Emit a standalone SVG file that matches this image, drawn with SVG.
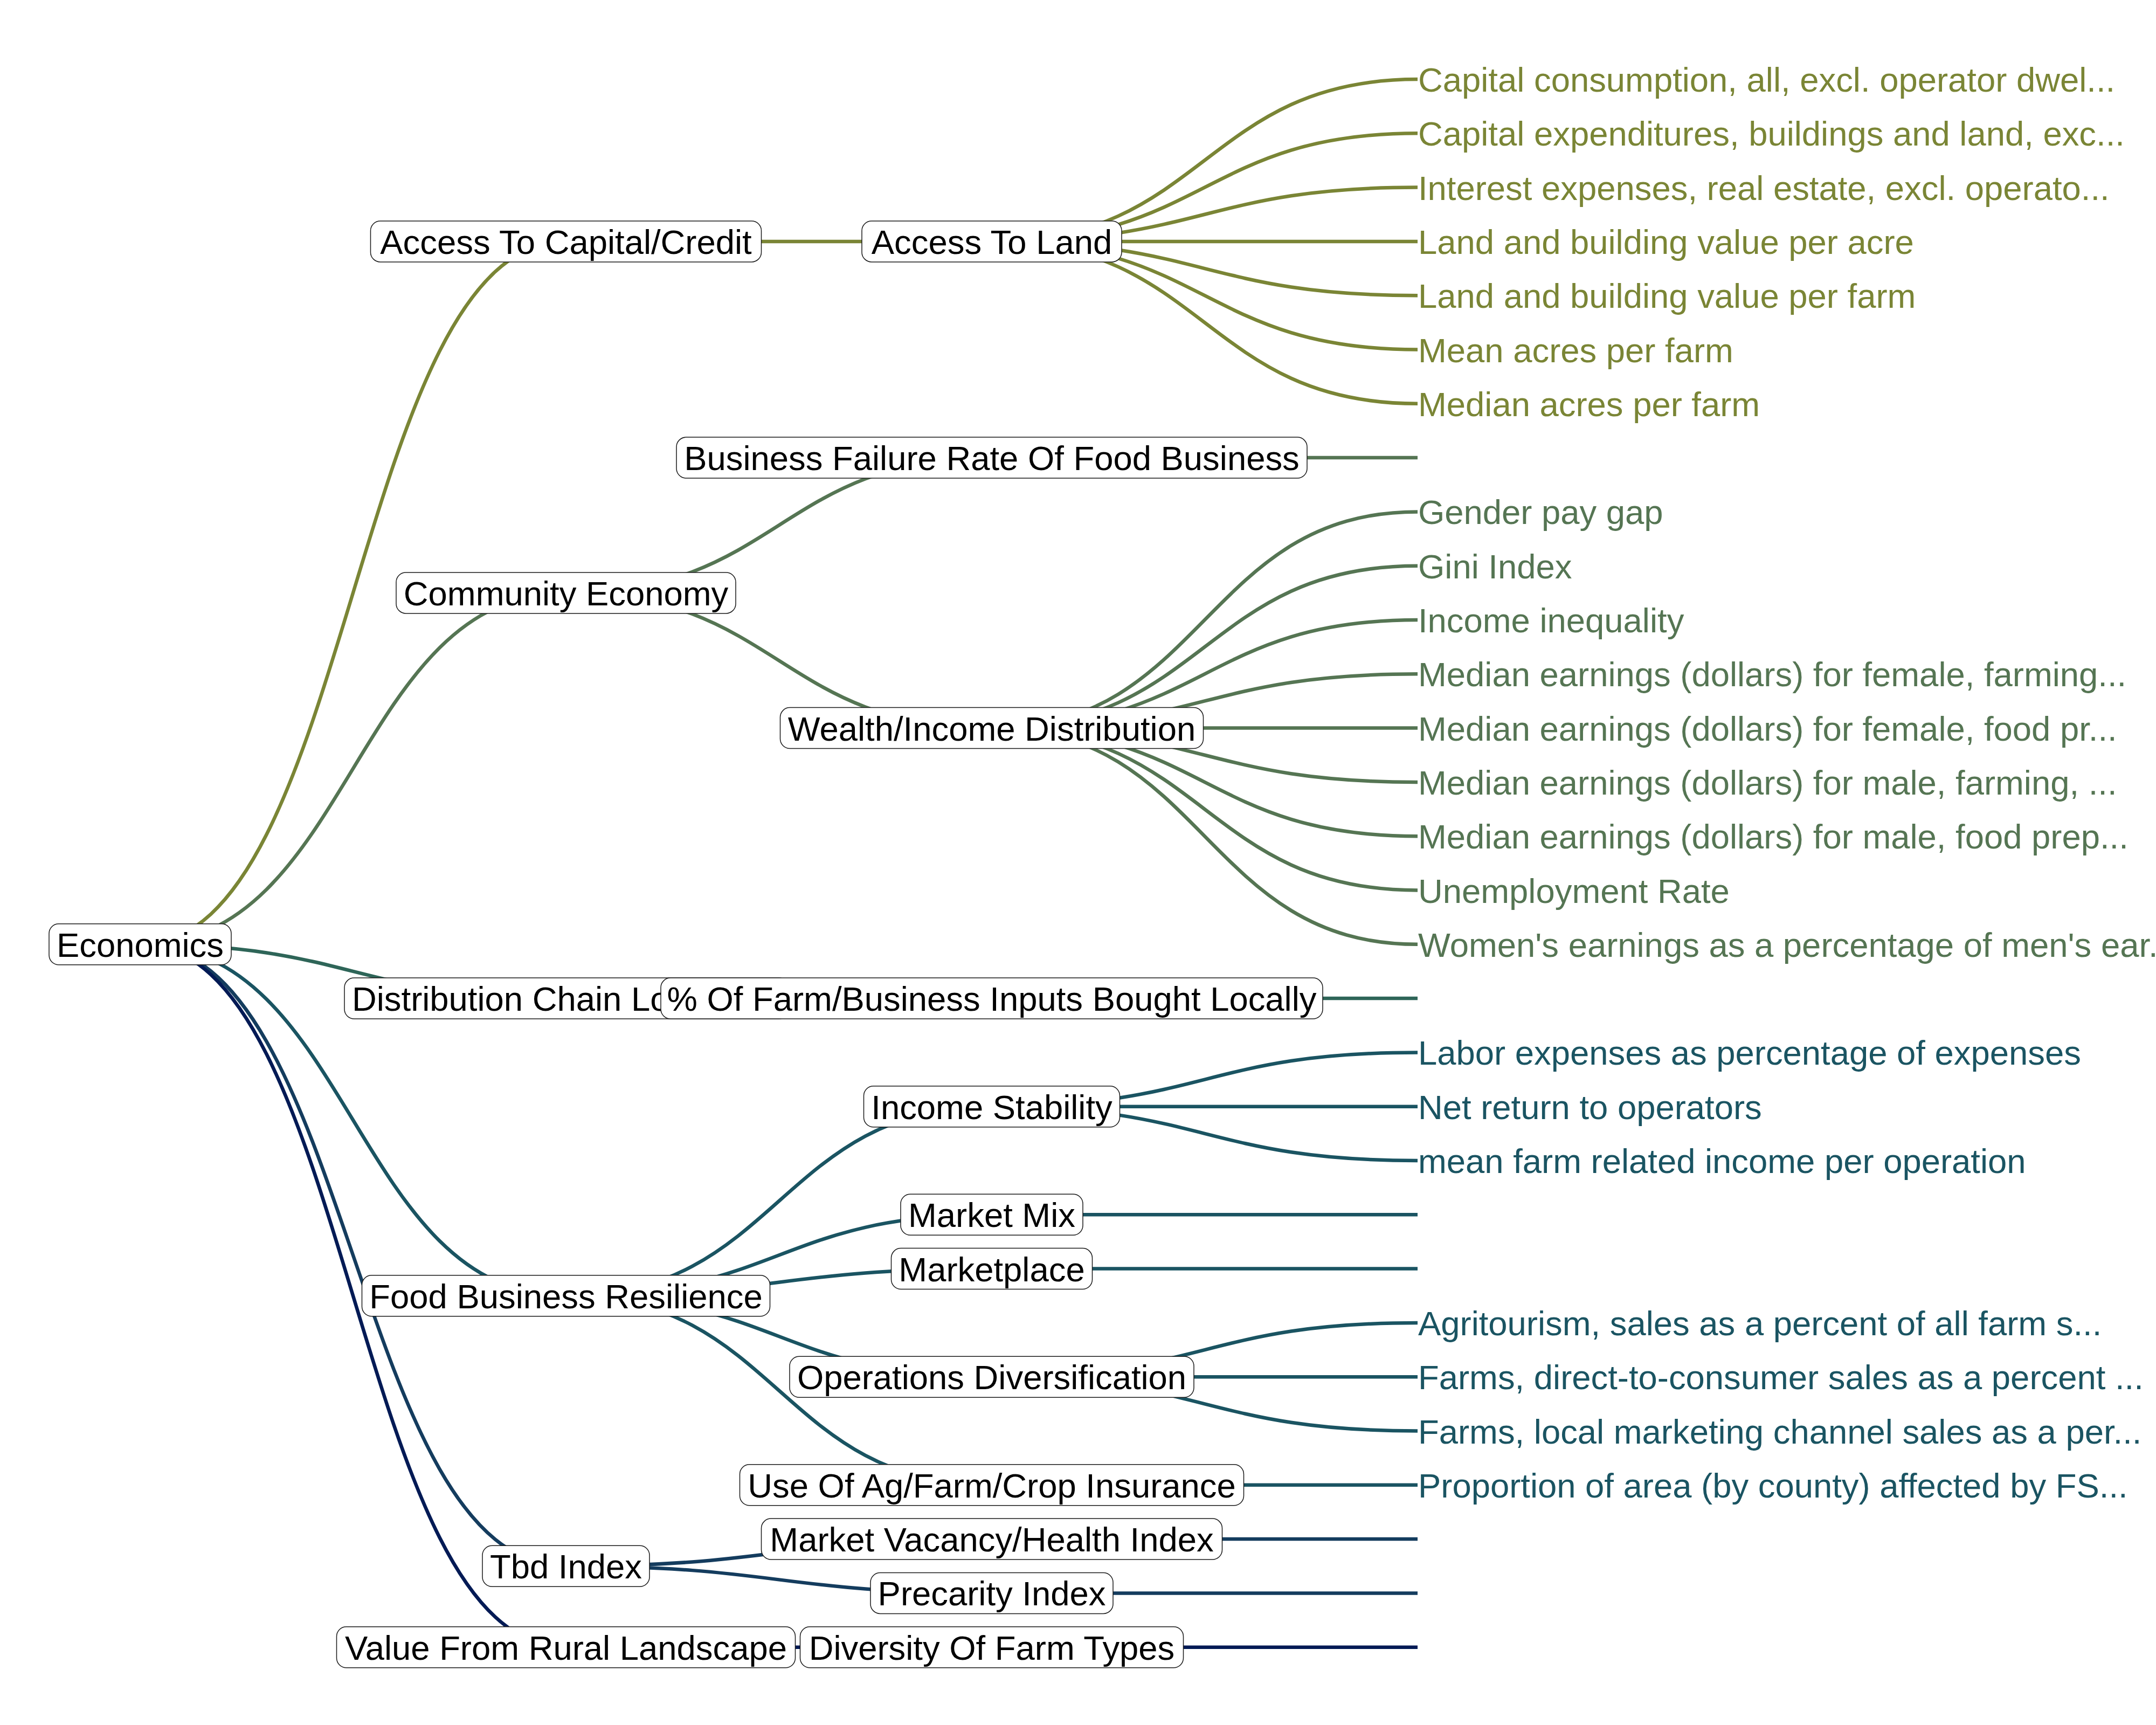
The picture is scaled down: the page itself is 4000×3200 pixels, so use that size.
<svg xmlns="http://www.w3.org/2000/svg" width="4000" height="3200" viewBox="0 0 4000 3200">
  <style>
    .edge { fill: none; stroke-width: 6.5; }
    .b1 { stroke: #7a8535; }
    .b2 { stroke: #557553; }
    .b3 { stroke: #2e6558; }
    .b4 { stroke: #1a5462; }
    .b5 { stroke: #143c5e; }
    .b6 { stroke: #021a55; }
    .box { fill: #ffffff; stroke: #1a1a1a; stroke-width: 1.5; }
    .lbl { font-family: "Liberation Sans", Arial, sans-serif; font-size: 63.4px; fill: #000000; text-anchor: middle; }
    .leaf { font-family: "Liberation Sans", Arial, sans-serif; font-size: 63.4px; text-anchor: start; }
    .t1 { fill: #7a8535; }
    .t2 { fill: #557553; }
    .t4 { fill: #1a5462; }
  </style>
  <rect width="4000" height="3200" fill="#ffffff"/>

  <!-- connectors: horizontal diagonals between node centres -->
  <g id="connectors">
    <!-- root to first level -->
    <path class="edge b1" d="M260,1751.8 C655,1751.8 655,447.9 1050,447.9"/>
    <path class="edge b2" d="M260,1751.8 C655,1751.8 655,1099.9 1050,1099.9"/>
    <path class="edge b3" d="M260,1751.8 C655,1751.8 655,1852.1 1050,1852.1"/>
    <path class="edge b4" d="M260,1751.8 C655,1751.8 655,2403.8 1050,2403.8"/>
    <path class="edge b5" d="M260,1751.8 C655,1751.8 655,2905.3 1050,2905.3"/>
    <path class="edge b6" d="M260,1751.8 C655,1751.8 655,3055.7 1050,3055.7"/>

    <!-- first level to second level -->
    <path class="edge b1" d="M1050,447.9 C1445,447.9 1445,447.9 1840,447.9"/>
    <path class="edge b2" d="M1050,1099.9 C1445,1099.9 1445,849.1 1840,849.1"/>
    <path class="edge b2" d="M1050,1099.9 C1445,1099.9 1445,1350.6 1840,1350.6"/>
    <path class="edge b3" d="M1050,1852.1 C1445,1852.1 1445,1852.1 1840,1852.1"/>
    <path class="edge b4" d="M1050,2403.8 C1445,2403.8 1445,2052.7 1840,2052.7"/>
    <path class="edge b4" d="M1050,2403.8 C1445,2403.8 1445,2253.3 1840,2253.3"/>
    <path class="edge b4" d="M1050,2403.8 C1445,2403.8 1445,2353.6 1840,2353.6"/>
    <path class="edge b4" d="M1050,2403.8 C1445,2403.8 1445,2554.2 1840,2554.2"/>
    <path class="edge b4" d="M1050,2403.8 C1445,2403.8 1445,2754.8 1840,2754.8"/>
    <path class="edge b5" d="M1050,2905.3 C1445,2905.3 1445,2855.1 1840,2855.1"/>
    <path class="edge b5" d="M1050,2905.3 C1445,2905.3 1445,2955.4 1840,2955.4"/>
    <path class="edge b6" d="M1050,3055.7 C1445,3055.7 1445,3055.7 1840,3055.7"/>

    <!-- second level to indicators -->
    <path class="edge b1" d="M1840,447.9 C2235,447.9 2235,147.0 2630,147.0"/>
    <path class="edge b1" d="M1840,447.9 C2235,447.9 2235,247.3 2630,247.3"/>
    <path class="edge b1" d="M1840,447.9 C2235,447.9 2235,347.6 2630,347.6"/>
    <path class="edge b1" d="M1840,447.9 C2235,447.9 2235,447.9 2630,447.9"/>
    <path class="edge b1" d="M1840,447.9 C2235,447.9 2235,548.2 2630,548.2"/>
    <path class="edge b1" d="M1840,447.9 C2235,447.9 2235,648.5 2630,648.5"/>
    <path class="edge b1" d="M1840,447.9 C2235,447.9 2235,748.8 2630,748.8"/>

    <path class="edge b2" d="M1840,849.1 C2235,849.1 2235,849.1 2630,849.1"/>

    <path class="edge b2" d="M1840,1350.6 C2235,1350.6 2235,949.4 2630,949.4"/>
    <path class="edge b2" d="M1840,1350.6 C2235,1350.6 2235,1049.7 2630,1049.7"/>
    <path class="edge b2" d="M1840,1350.6 C2235,1350.6 2235,1150.0 2630,1150.0"/>
    <path class="edge b2" d="M1840,1350.6 C2235,1350.6 2235,1250.3 2630,1250.3"/>
    <path class="edge b2" d="M1840,1350.6 C2235,1350.6 2235,1350.6 2630,1350.6"/>
    <path class="edge b2" d="M1840,1350.6 C2235,1350.6 2235,1450.9 2630,1450.9"/>
    <path class="edge b2" d="M1840,1350.6 C2235,1350.6 2235,1551.2 2630,1551.2"/>
    <path class="edge b2" d="M1840,1350.6 C2235,1350.6 2235,1651.5 2630,1651.5"/>
    <path class="edge b2" d="M1840,1350.6 C2235,1350.6 2235,1751.8 2630,1751.8"/>

    <path class="edge b3" d="M1840,1852.1 C2235,1852.1 2235,1852.1 2630,1852.1"/>

    <path class="edge b4" d="M1840,2052.7 C2235,2052.7 2235,1952.4 2630,1952.4"/>
    <path class="edge b4" d="M1840,2052.7 C2235,2052.7 2235,2052.7 2630,2052.7"/>
    <path class="edge b4" d="M1840,2052.7 C2235,2052.7 2235,2153.0 2630,2153.0"/>
    <path class="edge b4" d="M1840,2253.3 C2235,2253.3 2235,2253.3 2630,2253.3"/>
    <path class="edge b4" d="M1840,2353.6 C2235,2353.6 2235,2353.6 2630,2353.6"/>
    <path class="edge b4" d="M1840,2554.2 C2235,2554.2 2235,2453.9 2630,2453.9"/>
    <path class="edge b4" d="M1840,2554.2 C2235,2554.2 2235,2554.2 2630,2554.2"/>
    <path class="edge b4" d="M1840,2554.2 C2235,2554.2 2235,2654.5 2630,2654.5"/>
    <path class="edge b4" d="M1840,2754.8 C2235,2754.8 2235,2754.8 2630,2754.8"/>

    <path class="edge b5" d="M1840,2855.1 C2235,2855.1 2235,2855.1 2630,2855.1"/>
    <path class="edge b5" d="M1840,2955.4 C2235,2955.4 2235,2955.4 2630,2955.4"/>
    <path class="edge b6" d="M1840,3055.7 C2235,3055.7 2235,3055.7 2630,3055.7"/>
  </g>

  <!-- root -->
  <g id="economics">
    <rect class="box" x="91" y="1713.8" width="338" height="76" rx="18"/>
    <text class="lbl" x="260" y="1774.8">Economics</text>
  </g>

  <!-- first level -->
  <g id="access-to-capital-credit">
    <rect class="box" x="687.5" y="409.9" width="725" height="76" rx="18"/>
    <text class="lbl" x="1050" y="470.9">Access To Capital/Credit</text>
  </g>
  <g id="community-economy">
    <rect class="box" x="735" y="1061.9" width="630" height="76" rx="18"/>
    <text class="lbl" x="1050" y="1122.9">Community Economy</text>
  </g>
  <g id="distribution-chain">
    <rect class="box" x="639" y="1814.1" width="824" height="76" rx="18"/>
    <text class="lbl" x="653" y="1875.1" style="text-anchor:start">Distribution Chain Lo</text>
  </g>
  <g id="food-business-resilience">
    <rect class="box" x="671.5" y="2365.8" width="757" height="76" rx="18"/>
    <text class="lbl" x="1050" y="2426.8">Food Business Resilience</text>
  </g>
  <g id="tbd-index">
    <rect class="box" x="895" y="2867.3" width="310" height="76" rx="18"/>
    <text class="lbl" x="1050" y="2928.3">Tbd Index</text>
  </g>
  <g id="value-from-rural-landscape">
    <rect class="box" x="624.5" y="3017.7" width="851" height="76" rx="18"/>
    <text class="lbl" x="1050" y="3078.7">Value From Rural Landscape</text>
  </g>

  <!-- second level -->
  <g id="access-to-land">
    <rect class="box" x="1599" y="409.9" width="482" height="76" rx="18"/>
    <text class="lbl" x="1840" y="470.9">Access To Land</text>
  </g>
  <g id="business-failure-rate">
    <rect class="box" x="1255" y="811.1" width="1170" height="76" rx="18"/>
    <text class="lbl" x="1840" y="872.1">Business Failure Rate Of Food Business</text>
  </g>
  <g id="wealth-income-distribution">
    <rect class="box" x="1447.5" y="1312.6" width="785" height="76" rx="18"/>
    <text class="lbl" x="1840" y="1373.6">Wealth/Income Distribution</text>
  </g>
  <g id="inputs-bought-locally">
    <rect class="box" x="1226" y="1814.1" width="1228" height="76" rx="18"/>
    <text class="lbl" x="1840" y="1875.1">% Of Farm/Business Inputs Bought Locally</text>
  </g>
  <g id="income-stability">
    <rect class="box" x="1602.5" y="2014.7" width="475" height="76" rx="18"/>
    <text class="lbl" x="1840" y="2075.7">Income Stability</text>
  </g>
  <g id="market-mix">
    <rect class="box" x="1671" y="2215.3" width="338" height="76" rx="18"/>
    <text class="lbl" x="1840" y="2276.3">Market Mix</text>
  </g>
  <g id="marketplace">
    <rect class="box" x="1653.5" y="2315.6" width="373" height="76" rx="18"/>
    <text class="lbl" x="1840" y="2376.6">Marketplace</text>
  </g>
  <g id="operations-diversification">
    <rect class="box" x="1465" y="2516.2" width="750" height="76" rx="18"/>
    <text class="lbl" x="1840" y="2577.2">Operations Diversification</text>
  </g>
  <g id="crop-insurance">
    <rect class="box" x="1372.5" y="2716.8" width="935" height="76" rx="18"/>
    <text class="lbl" x="1840" y="2777.8">Use Of Ag/Farm/Crop Insurance</text>
  </g>
  <g id="market-vacancy">
    <rect class="box" x="1412.5" y="2817.1" width="855" height="76" rx="18"/>
    <text class="lbl" x="1840" y="2878.1">Market Vacancy/Health Index</text>
  </g>
  <g id="precarity-index">
    <rect class="box" x="1615" y="2917.4" width="450" height="76" rx="18"/>
    <text class="lbl" x="1840" y="2978.4">Precarity Index</text>
  </g>
  <g id="diversity-of-farm-types">
    <rect class="box" x="1484.5" y="3017.7" width="711" height="76" rx="18"/>
    <text class="lbl" x="1840" y="3078.7">Diversity Of Farm Types</text>
  </g>

  <!-- indicators -->
  <g id="indicators-land">
    <text class="leaf t1" x="2631" y="170.0">Capital consumption, all, excl. operator dwel...</text>
    <text class="leaf t1" x="2631" y="270.3">Capital expenditures, buildings and land, exc...</text>
    <text class="leaf t1" x="2631" y="370.6">Interest expenses, real estate, excl. operato...</text>
    <text class="leaf t1" x="2631" y="470.9">Land and building value per acre</text>
    <text class="leaf t1" x="2631" y="571.2">Land and building value per farm</text>
    <text class="leaf t1" x="2631" y="671.5">Mean acres per farm</text>
    <text class="leaf t1" x="2631" y="771.8">Median acres per farm</text>
  </g>
  <g id="indicators-wealth">
    <text class="leaf t2" x="2631" y="972.4">Gender pay gap</text>
    <text class="leaf t2" x="2631" y="1072.7">Gini Index</text>
    <text class="leaf t2" x="2631" y="1173.0">Income inequality</text>
    <text class="leaf t2" x="2631" y="1273.3">Median earnings (dollars) for female, farming...</text>
    <text class="leaf t2" x="2631" y="1373.6">Median earnings (dollars) for female, food pr...</text>
    <text class="leaf t2" x="2631" y="1473.9">Median earnings (dollars) for male, farming, ...</text>
    <text class="leaf t2" x="2631" y="1574.2">Median earnings (dollars) for male, food prep...</text>
    <text class="leaf t2" x="2631" y="1674.5">Unemployment Rate</text>
    <text class="leaf t2" x="2631" y="1774.8">Women's earnings as a percentage of men's ear...</text>
  </g>
  <g id="indicators-income">
    <text class="leaf t4" x="2631" y="1975.4">Labor expenses as percentage of expenses</text>
    <text class="leaf t4" x="2631" y="2075.7">Net return to operators</text>
    <text class="leaf t4" x="2631" y="2176.0">mean farm related income per operation</text>
  </g>
  <g id="indicators-diversification">
    <text class="leaf t4" x="2631" y="2476.9">Agritourism, sales as a percent of all farm s...</text>
    <text class="leaf t4" x="2631" y="2577.2">Farms, direct-to-consumer sales as a percent ...</text>
    <text class="leaf t4" x="2631" y="2677.5">Farms, local marketing channel sales as a per...</text>
  </g>
  <g id="indicators-insurance">
    <text class="leaf t4" x="2631" y="2777.8">Proportion of area (by county) affected by FS...</text>
  </g>
</svg>
